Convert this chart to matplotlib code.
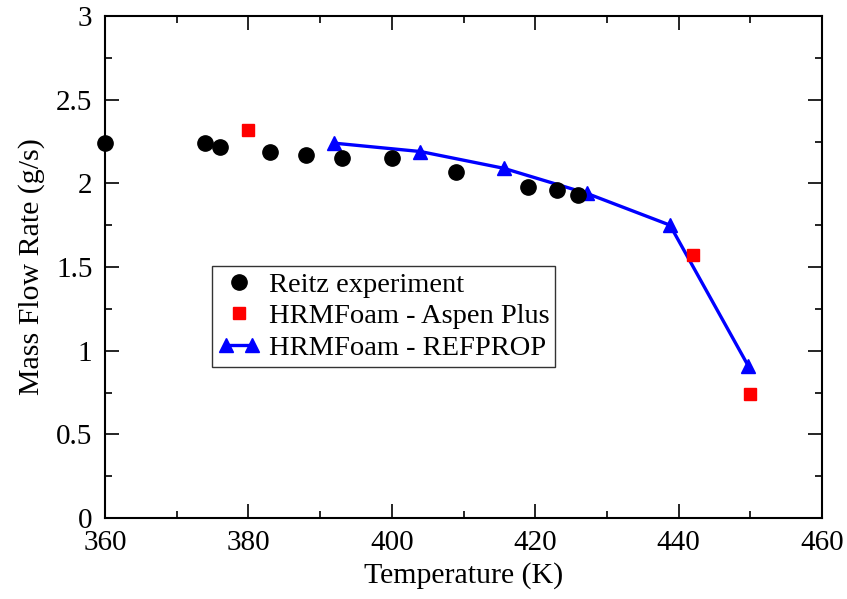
import matplotlib
matplotlib.use('Agg')
import matplotlib.pyplot as plt
from matplotlib.ticker import MultipleLocator
from matplotlib.legend_handler import HandlerLine2D

plt.rcParams['font.family'] = ['Liberation Serif', 'DejaVu Serif']

# Reitz experiment
exp_T = [360, 374, 376, 383, 388, 393, 400, 409, 419, 423, 426]
exp_m = [2.24, 2.24, 2.22, 2.19, 2.17, 2.15, 2.15, 2.07, 1.98, 1.96, 1.93]

# HRMFoam - Aspen Plus
aspen_T = [380, 442, 450]
aspen_m = [2.32, 1.57, 0.74]

# HRMFoam - REFPROP
ref_T = [392, 404, 415.6, 427.2, 438.8, 449.7]
ref_m = [2.24, 2.19, 2.09, 1.94, 1.75, 0.91]

fig = plt.figure(figsize=(8.47, 5.99), dpi=100)
ax = fig.add_axes([105/847, 1 - 518/599, (822-105)/847, (518-16)/599])

ax.plot(exp_T, exp_m, 'o', color='black', markersize=11, linestyle='none',
        label='Reitz experiment', clip_on=False, zorder=3)
ax.plot(aspen_T, aspen_m, 's', color='red', markersize=9, linestyle='none',
        label='HRMFoam - Aspen Plus', zorder=3)
ref_line, = ax.plot(ref_T, ref_m, '^-', color='blue', markersize=10, linewidth=2.4,
                    label='HRMFoam - REFPROP', zorder=2)

ax.set_xlim(360, 460)
ax.set_ylim(0, 3)
ax.xaxis.set_major_locator(MultipleLocator(20))
ax.xaxis.set_minor_locator(MultipleLocator(10))
ax.yaxis.set_minor_locator(MultipleLocator(0.25))
ax.set_yticks([0, 0.5, 1, 1.5, 2, 2.5, 3])
ax.set_yticklabels(['0', '0.5', '1', '1.5', '2', '2.5', '3'])

ax.tick_params(which='both', direction='in', top=True, right=True,
               labelsize=21, width=1.2, pad=9)
ax.tick_params(which='major', length=10)
ax.tick_params(which='minor', length=5)
for s in ax.spines.values():
    s.set_linewidth(1.5)

ax.set_xlabel('Temperature (K)', fontsize=21.5, labelpad=4)
ax.set_ylabel('Mass Flow Rate (g/s)', fontsize=21.5, labelpad=8)

leg = ax.legend(loc='upper left', bbox_to_anchor=((212-105)/717, (518-266)/502),
                fontsize=20.5, frameon=True, fancybox=False, edgecolor='black',
                borderpad=0.2, labelspacing=0.2, handlelength=1.5,
                handletextpad=0.3, borderaxespad=0, numpoints=1,
                handler_map={ref_line: HandlerLine2D(numpoints=2)})
leg.get_frame().set_linewidth(1.0)

fig.savefig('out.png', dpi=100)
